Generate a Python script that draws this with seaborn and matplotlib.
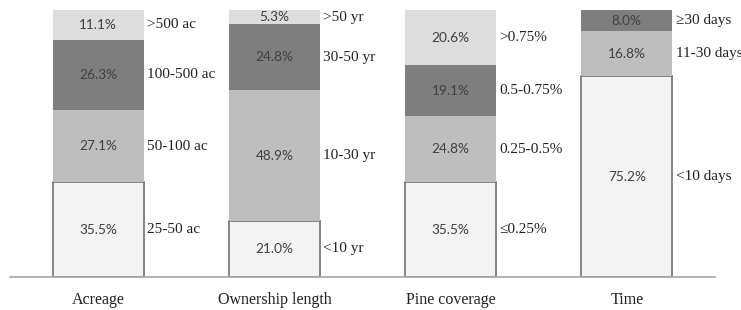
import numpy as np
import pandas as pd
import matplotlib
matplotlib.use("Agg")
import matplotlib.pyplot as plt
import seaborn as sns

# categories along the x axis
categories = ["Acreage", "Ownership length", "Pine coverage", "Time"]

# segment shares (%) from bottom to top, one list per level; 0 = no segment
level1 = [35.5, 21.0, 35.5, 75.2]
level2 = [27.1, 48.9, 24.8, 16.8]
level3 = [26.3, 24.8, 19.1, 8.0]
level4 = [11.1, 5.3, 20.6, 0.0]

# class labels next to each segment, bottom to top
labels_acreage = ["25-50 ac", "50-100 ac", "100-500 ac", ">500 ac"]
labels_owner = ["<10 yr", "10-30 yr", "30-50 yr", ">50 yr"]
labels_pine = ["\u22640.25%", "0.25-0.5%", "0.5-0.75%", ">0.75%"]
labels_time = ["<10 days", "11-30 days", "\u226530 days"]

levels = [level1, level2, level3, level4]
seg_labels = [labels_acreage, labels_owner, labels_pine, labels_time]
fills = ["#f3f3f3", "#bebebe", "#7e7e7e", "#dddddd"]

sns.set_theme(style="white")
fig = plt.figure(figsize=(7.41, 3.10), dpi=100)
ax = fig.add_axes([10 / 741, 33 / 310, 705 / 741, 267 / 310])

width = 0.515
bottoms = np.zeros(len(categories))
for i, vals in enumerate(levels):
    df = pd.DataFrame({"cat": categories, "val": vals})
    sns.barplot(data=df, x="cat", y="val", order=categories, color=fills[i],
                width=width, bottom=bottoms.copy(), ax=ax, errorbar=None,
                edgecolor="#7a7a7a" if i == 0 else fills[i],
                linewidth=1.3 if i == 0 else 0, saturation=1)
    for j, v in enumerate(vals):
        if v <= 0:
            continue
        yc = bottoms[j] + v / 2
        ax.text(j, yc, f"{v:.1f}%", ha="center", va="center", fontsize=9.8,
                family="Lato", color="#404040")
        ax.text(j + width / 2 + 0.02, yc, seg_labels[j][i], ha="left",
                va="center", fontsize=11, family="Liberation Serif",
                color="#222222", clip_on=False)
    bottoms += np.array(vals)

ax.set_xlim(-0.5, 3.5)
ax.set_ylim(0, 100)
ax.set_xlabel("")
ax.set_ylabel("")
ax.set_yticks([])
for side in ["top", "right", "left"]:
    ax.spines[side].set_visible(False)
ax.spines["bottom"].set_color("#a6a6a6")
ax.spines["bottom"].set_linewidth(1.2)
ax.tick_params(axis="x", length=0, pad=11)
for lab in ax.get_xticklabels():
    lab.set_fontfamily("Liberation Serif")
    lab.set_fontsize(11.5)
    lab.set_color("#222222")

fig.savefig("out.png", dpi=100)
